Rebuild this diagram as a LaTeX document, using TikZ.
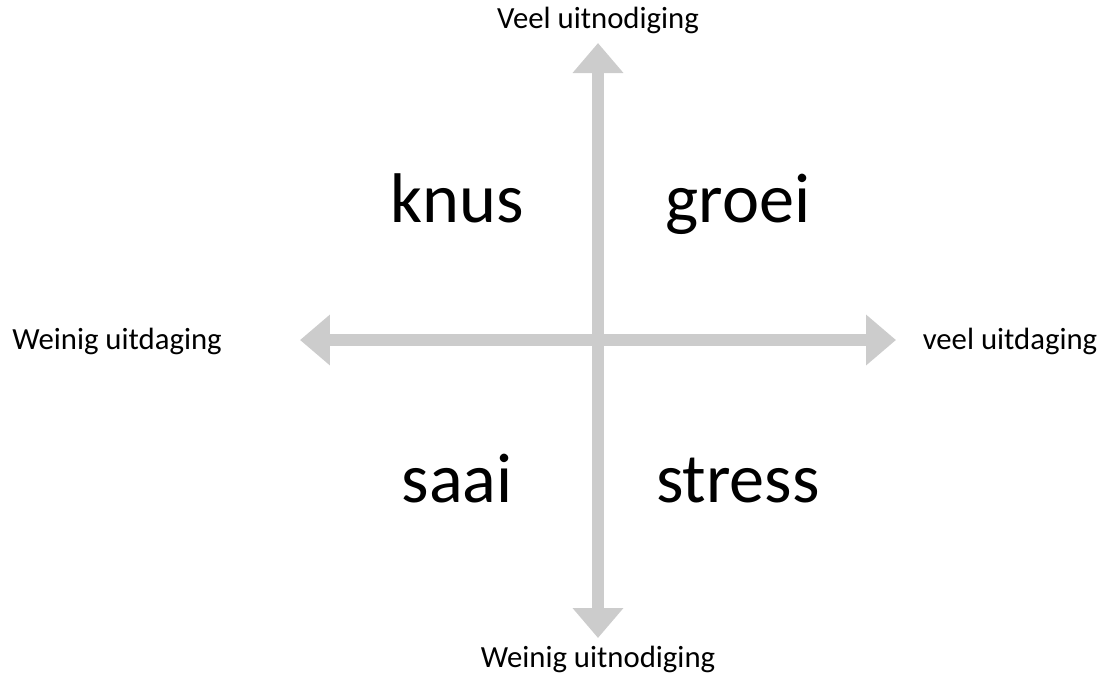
\documentclass[tikz,border=0pt]{standalone}
\usepackage{fontspec}
\setmainfont{Carlito}
\usetikzlibrary{arrows.meta,positioning}
\definecolor{axisgray}{RGB}{204,204,204}
\tikzset{
  axis/.style={draw=axisgray, line width=0.24cm,
    {Triangle[length=0.6cm,width=0.98cm]}-{Triangle[length=0.6cm,width=0.98cm]}},
  endlabel/.style={anchor=base, inner sep=0pt, font=\fontsize{17.5}{20}\selectfont},
  quadrant/.style={anchor=base, inner sep=0pt, font=\fontsize{40}{46}\selectfont}
}
\begin{document}
\begin{tikzpicture}[x=0.02cm,y=-0.02cm]
   \useasboundingbox (0,0) rectangle (1109,674);

   % axis ends
   \coordinate (top)    at (598,43);
   \coordinate (bottom) at (598,638);
   \coordinate (left)   at (300,340);
   \coordinate (right)  at (896,340);

   % axes
   \draw[axis] (left) -- (right);
   \draw[axis] (bottom) -- (top);

   % axis labels
   \node[endlabel] (veelnod)   at (598,28)  {Veel uitnodiging};
   \node[endlabel] (weinignod) at (598,667) {Weinig uitnodiging};
   \node[endlabel] (weinigdag) at (117,349) {Weinig uitdaging};
   \node[endlabel] (veeldag)   at (1010,349) {veel uitdaging};

   % quadrants
   \node[quadrant] (knus)   at (457,222) {knus};
   \node[quadrant] (groei)  at (738,222) {groei};
   \node[quadrant] (saai)   at (457,502) {saai};
   \node[quadrant] (stress) at (738,502) {stress};
\end{tikzpicture}
\end{document}
